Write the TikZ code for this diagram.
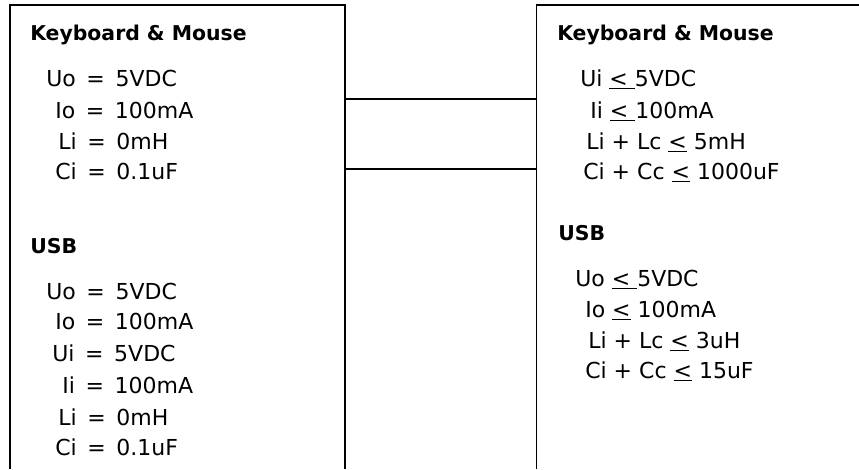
\documentclass[tikz,border=0pt]{standalone}
\usepackage{fontspec}
\setmainfont{DejaVu Sans}
\tikzstyle{head} = [anchor=base west, inner sep=0pt, font=\bfseries\fontsize{15.3}{18}\selectfont]
\tikzstyle{val} = [anchor=base west, inner sep=0pt, font=\fontsize{16.5}{19}\selectfont]
\tikzstyle{box} = [line width=1.4pt]
\tikzstyle{wire} = [line width=1pt]
\newcommand{\atmost}{\underline{<}}
\newcommand{\atmostsp}{\underline{<\ }}

\begin{document}
\begin{tikzpicture}[x=0.75pt,y=-0.75pt]
  \useasboundingbox (0,0) rectangle (859,469);

  % left box, open at the bottom
  \coordinate (lsw) at (10,469);
  \coordinate (lnw) at (10,5);
  \coordinate (lne) at (345,5);
  \coordinate (lse) at (345,469);
  \draw[box] (lsw) -- (lnw) -- (lne) -- (lse);
  % right box, open at the bottom and right
  \coordinate (rne) at (859,5);
  \coordinate (rnw) at (536.5,5);
  \coordinate (rsw) at (536.5,469);
  \draw[box] (rne) -- (rnw) -- (rsw);

  \node (a) at (30,40) [head] {Keyboard \& Mouse};
  \node (a1) at (46,86) [val] {Uo \,= \,5VDC};
  \node (a2) at (55,118) [val] {Io \,= \,100mA};
  \node (a3) at (58,149) [val] {Li \,= \,0mH};
  \node (a4) at (55,179) [val] {Ci \,= \,0.1uF};

  \node (b) at (30,253) [head] {USB};
  \node (b1) at (46,299) [val] {Uo \,= \,5VDC};
  \node (b2) at (55,329) [val] {Io \,= \,100mA};
  \node (b3) at (52,361) [val] {Ui \,= \,5VDC};
  \node (b4) at (62,393) [val] {Ii \,= \,100mA};
  \node (b5) at (58,425) [val] {Li \,= \,0mH};
  \node (b6) at (55,455) [val] {Ci \,= \,0.1uF};

  \node (c) at (557,40) [head] {Keyboard \& Mouse};
  \node (c1) at (580,86) [val] {Ui \atmostsp5VDC};
  \node (c2) at (590,118) [val] {Ii \atmostsp100mA};
  \node (c3) at (586,149) [val] {Li + Lc \atmost\ 5mH};
  \node (c4) at (583,179) [val] {Ci + Cc \atmost\ 1000uF};

  \node (d) at (558,240) [head] {USB};
  \node (d1) at (575,286) [val] {Uo \atmostsp5VDC};
  \node (d2) at (585,317) [val] {Io \atmost\ 100mA};
  \node (d3) at (588,348) [val] {Li + Lc \atmost\ 3uH};
  \node (d4) at (585,378) [val] {Ci + Cc \atmost\ 15uF};

  % links between the boxes
  \coordinate (p) at (345,99);
  \coordinate (q) at (536.5,99);
  \coordinate (r) at (345,169);
  \coordinate (s) at (536.5,169);
  \draw[wire] (p) -- (q);
  \draw[wire] (r) -- (s);
\end{tikzpicture}
\end{document}
